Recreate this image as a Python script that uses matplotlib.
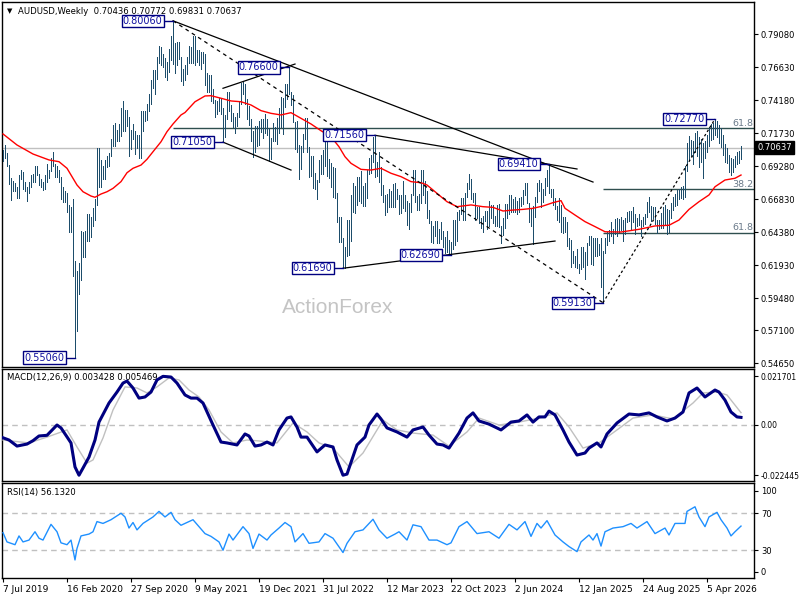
import matplotlib
matplotlib.use("Agg")
import matplotlib.pyplot as plt
from matplotlib.transforms import blended_transform_factory

# ---------------- data ----------------
highs = [
 0.7047,0.7082,0.7025,0.6935,0.6840,0.6820,0.6800,0.6770,0.6860,0.6895,
 0.6880,0.6810,0.6770,0.6810,0.6860,0.6870,0.6930,0.6930,0.6870,0.6830,
 0.6810,0.6860,0.6940,0.6900,0.6990,0.7032,0.6940,0.6930,0.6900,0.6850,
 0.6775,0.6740,0.6730,0.6640,0.6620,0.6685,0.6220,0.6150,0.6210,0.6445,
 0.6440,0.6445,0.6570,0.6570,0.6550,0.6615,0.6680,0.7065,0.7065,0.6975,
 0.6930,0.6975,0.7000,0.7025,0.7125,0.7230,0.7245,0.7195,0.7240,0.7360,
 0.7413,0.7345,0.7345,0.7290,0.7195,0.7240,0.7190,0.7160,0.7160,0.7340,
 0.7340,0.7340,0.7390,0.7460,0.7570,0.7640,0.7640,0.7740,0.7820,0.7815,
 0.7760,0.7730,0.7700,0.7800,0.7890,0.8006,0.7840,0.7850,0.7850,0.7740,
 0.7650,0.7680,0.7740,0.7820,0.7815,0.7890,0.7890,0.7790,0.7790,0.7775,
 0.7775,0.7760,0.7615,0.7600,0.7600,0.7500,0.7420,0.7410,0.7430,0.7425,
 0.7360,0.7310,0.7480,0.7480,0.7380,0.7320,0.7290,0.7320,0.7410,0.7545,
 0.7555,0.7535,0.7425,0.7370,0.7280,0.7190,0.7225,0.7225,0.7260,0.7280,
 0.7275,0.7315,0.7275,0.7210,0.7135,0.7250,0.7220,0.7285,0.7355,0.7440,
 0.7430,0.7540,0.7540,0.7660,0.7480,0.7455,0.7255,0.7265,0.7085,0.7075,
 0.7165,0.7285,0.7285,0.7070,0.7000,0.7000,0.6875,0.6825,0.6975,0.7010,
 0.7050,0.7135,0.7135,0.6980,0.6950,0.6920,0.6915,0.6730,0.6550,0.6550,
 0.6390,0.6330,0.6525,0.6530,0.6710,0.6800,0.6780,0.6850,0.6850,0.6890,
 0.6780,0.6800,0.6900,0.6990,0.7010,0.7140,0.7156,0.6960,0.7030,0.6920,
 0.6785,0.6715,0.6720,0.6760,0.6740,0.6795,0.6805,0.6760,0.6710,0.6715,
 0.6815,0.6710,0.6665,0.6650,0.6720,0.6900,0.6900,0.6705,0.6720,0.6895,
 0.6900,0.6820,0.6740,0.6600,0.6520,0.6480,0.6520,0.6520,0.6460,0.6510,
 0.6445,0.6400,0.6445,0.6380,0.6365,0.6525,0.6525,0.6590,0.6600,0.6690,
 0.6690,0.6730,0.6800,0.6870,0.6830,0.6730,0.6730,0.6620,0.6620,0.6545,
 0.6560,0.6595,0.6595,0.6665,0.6640,0.6635,0.6560,0.6640,0.6645,0.6480,
 0.6545,0.6645,0.6645,0.6715,0.6715,0.6680,0.6700,0.6670,0.6690,0.6700,
 0.6750,0.6800,0.6800,0.6650,0.6610,0.6630,0.6700,0.6800,0.6825,0.6800,
 0.6760,0.6840,0.6900,0.6941,0.6760,0.6760,0.6690,0.6630,0.6690,0.6640,
 0.6550,0.6550,0.6515,0.6390,0.6380,0.6300,0.6260,0.6310,0.6200,0.6330,
 0.6330,0.6290,0.6360,0.6410,0.6410,0.6390,0.6390,0.6390,0.6350,0.6390,
 0.6300,0.6390,0.6440,0.6450,0.6515,0.6460,0.6535,0.6540,0.6535,0.6550,
 0.6530,0.6545,0.6590,0.6595,0.6595,0.6625,0.6570,0.6540,0.6570,0.6530,
 0.6550,0.6570,0.6660,0.6700,0.6630,0.6620,0.6620,0.6530,0.6530,0.6580,
 0.6620,0.6640,0.6610,0.6600,0.6650,0.6700,0.6720,0.6750,0.6760,0.6770,
 0.6780,0.6930,0.7100,0.7150,0.7120,0.7110,0.7170,0.7190,0.7140,0.7130,
 0.7100,0.7110,0.7160,0.7220,0.7240,0.7250,0.7277,0.7260,0.7230,0.7210,
 0.7160,0.7090,0.7060,0.7010,0.6990,0.6980,0.7000,0.7030,0.7040,0.70772,
]
lows = [
 0.6966,0.6990,0.6925,0.6795,0.6677,0.6740,0.6740,0.6688,0.6690,0.6830,
 0.6760,0.6740,0.6670,0.6730,0.6770,0.6810,0.6810,0.6860,0.6790,0.6770,
 0.6750,0.6755,0.6810,0.6840,0.6890,0.6930,0.6850,0.6850,0.6810,0.6680,
 0.6660,0.6660,0.6585,0.6435,0.6435,0.6115,0.5506,0.5700,0.5980,0.6085,
 0.6250,0.6255,0.6370,0.6370,0.6400,0.6480,0.6525,0.6640,0.6775,0.6775,
 0.6830,0.6830,0.6920,0.6925,0.7000,0.7075,0.7075,0.7110,0.7115,0.7150,
 0.7190,0.7190,0.7225,0.7005,0.7055,0.7125,0.7020,0.7060,0.6990,0.6990,
 0.7190,0.7265,0.7270,0.7340,0.7390,0.7505,0.7465,0.7575,0.7690,0.7675,
 0.7665,0.7590,0.7565,0.7625,0.7715,0.7685,0.7620,0.7680,0.7720,0.7560,
 0.7530,0.7570,0.7610,0.7690,0.7690,0.7690,0.7675,0.7700,0.7675,0.7645,
 0.7690,0.7530,0.7475,0.7475,0.7410,0.7395,0.7290,0.7315,0.7340,0.7315,
 0.7105,0.7145,0.7275,0.7340,0.7265,0.7220,0.7170,0.7225,0.7290,0.7385,
 0.7460,0.7385,0.7275,0.7235,0.7110,0.6995,0.7035,0.7080,0.7085,0.7180,
 0.7135,0.7170,0.7160,0.6965,0.6980,0.7110,0.7110,0.7095,0.7175,0.7220,
 0.7165,0.7365,0.7425,0.7460,0.7380,0.7255,0.7055,0.7030,0.6830,0.6905,
 0.7030,0.7130,0.7035,0.6850,0.6855,0.6765,0.6760,0.6680,0.6810,0.6870,
 0.6870,0.6925,0.6855,0.6840,0.6770,0.6700,0.6690,0.6510,0.6365,0.6365,
 0.6169,0.6170,0.6260,0.6270,0.6370,0.6585,0.6580,0.6640,0.6670,0.6650,
 0.6630,0.6630,0.6690,0.6870,0.6875,0.6955,0.6850,0.6855,0.6810,0.6715,
 0.6660,0.6565,0.6590,0.6625,0.6625,0.6620,0.6620,0.6680,0.6575,0.6580,
 0.6615,0.6595,0.6490,0.6460,0.6590,0.6710,0.6660,0.6600,0.6600,0.6650,
 0.6715,0.6650,0.6545,0.6505,0.6365,0.6360,0.6410,0.6355,0.6360,0.6385,
 0.6330,0.6285,0.6290,0.6285,0.6269,0.6315,0.6340,0.6370,0.6525,0.6570,
 0.6525,0.6525,0.6700,0.6760,0.6680,0.6660,0.6525,0.6545,0.6505,0.6470,
 0.6440,0.6520,0.6460,0.6480,0.6540,0.6505,0.6480,0.6480,0.6475,0.6360,
 0.6415,0.6465,0.6540,0.6575,0.6590,0.6590,0.6590,0.6575,0.6585,0.6630,
 0.6645,0.6710,0.6650,0.6510,0.6480,0.6350,0.6550,0.6660,0.6740,0.6625,
 0.6660,0.6710,0.6780,0.6725,0.6700,0.6640,0.6610,0.6530,0.6515,0.6440,
 0.6430,0.6435,0.6335,0.6315,0.6180,0.6210,0.6180,0.6170,0.6130,0.6160,
 0.6180,0.6090,0.6190,0.6340,0.6200,0.6190,0.6260,0.6260,0.6265,0.6030,
 0.5913,0.6280,0.6340,0.6370,0.6410,0.6360,0.6420,0.6410,0.6440,0.6450,
 0.6370,0.6420,0.6510,0.6520,0.6455,0.6510,0.6420,0.6480,0.6490,0.6410,
 0.6480,0.6500,0.6550,0.6590,0.6520,0.6540,0.6500,0.6430,0.6460,0.6470,
 0.6470,0.6500,0.6420,0.6440,0.6540,0.6600,0.6630,0.6640,0.6680,0.6690,
 0.6680,0.6700,0.6890,0.6970,0.7000,0.6940,0.7030,0.7000,0.6920,0.6960,
 0.6840,0.6990,0.7030,0.7080,0.7120,0.7130,0.7160,0.7140,0.7100,0.7070,
 0.7010,0.6960,0.6950,0.6880,0.6860,0.6880,0.6920,0.6940,0.6950,0.69831,
]
assert len(highs) == 370 and len(lows) == 370

last_price = 0.70637
title_text = "AUDUSD,Weekly  0.70436 0.70772 0.69831 0.70637"

# red moving average (week index, value)
ma_idx = [0,7,15,23,28,32,37,40,44,46,49,52,55,59,62,65,69,72,75,79,82,85,89,
          91,96,101,104,109,114,119,124,129,134,139,144,149,154,159,164,168,171,
          174,179,184,189,194,199,204,209,212,217,222,227,234,240,245,250,255,
          260,265,270,275,279,281,286,291,296,301,309,318,326,333,338,343,348,
          353,356,361,366,369]
ma_val = [0.7166,0.7084,0.7017,0.6973,0.6960,0.6911,0.6787,0.6737,0.6705,0.6696,
          0.6720,0.6737,0.6762,0.6812,0.6878,0.6911,0.6935,0.6978,0.7034,0.7108,
          0.7183,0.7240,0.7307,0.7325,0.7405,0.7448,0.7450,0.7431,0.7411,0.7405,
          0.7381,0.7339,0.7319,0.7307,0.7324,0.7282,0.7240,0.7190,0.7146,0.7071,
          0.6997,0.6948,0.6903,0.6898,0.6911,0.6874,0.6849,0.6812,0.6804,0.6787,
          0.6725,0.6663,0.6626,0.6639,0.6626,0.6621,0.6594,0.6601,0.6606,0.6614,
          0.6631,0.6656,0.6671,0.6614,0.6564,0.6515,0.6478,0.6440,0.6438,0.6458,
          0.6483,0.6488,0.6527,0.6606,0.6663,0.6713,0.6774,0.6824,0.6837,0.6861]

macd_idx = [0,3,7,12,15,18,22,27,29,32,34,36,38,40,43,46,48,53,57,60,62,65,68,71,
            74,77,80,84,87,91,94,97,100,105,109,112,117,121,123,126,129,132,135,
            138,142,144,147,149,152,157,161,165,167,170,172,177,181,183,187,189,
            192,197,202,205,210,213,217,220,223,228,232,235,238,243,249,254,258,
            262,265,268,271,273,276,280,283,287,291,293,297,299,302,307,313,318,
            323,327,332,336,340,343,347,351,356,358,361,364,367,369]
macd_val = [-0.0057,-0.0067,-0.0094,-0.0085,-0.0070,-0.0049,-0.0046,0.0000,-0.0013,
            -0.0053,-0.0080,-0.0187,-0.0224,-0.0192,-0.0143,-0.0067,0.0013,0.0098,
            0.0147,0.0187,0.0196,0.0165,0.0120,0.0125,0.0147,0.0201,0.0217,0.0214,
            0.0187,0.0134,0.0120,0.0120,0.0098,0.0000,-0.0076,-0.0080,-0.0089,
            -0.0040,-0.0049,-0.0094,-0.0089,-0.0076,-0.0089,-0.0022,0.0031,0.0036,
            -0.0009,-0.0054,-0.0054,-0.0120,-0.0089,-0.0098,-0.0156,-0.0224,-0.0219,
            -0.0089,-0.0054,0.0000,0.0049,0.0027,-0.0013,-0.0031,-0.0054,-0.0022,
            -0.0009,-0.0045,-0.0085,-0.0089,-0.0103,-0.0036,0.0031,0.0054,0.0018,
            0.0004,-0.0022,0.0013,0.0018,0.0045,0.0013,0.0036,0.0036,0.0062,0.0045,
            -0.0022,-0.0076,-0.0134,-0.0125,-0.0103,-0.0080,-0.0098,-0.0040,0.0009,
            0.0049,0.0045,0.0054,0.0036,0.0018,0.0031,0.0058,0.0143,0.0165,0.0125,
            0.0156,0.0147,0.0111,0.0058,0.0036,0.0034]
signal_idx = [0,13,22,32,37,42,45,50,55,61,67,72,77,83,88,93,98,103,109,115,122,
              128,137,145,152,158,165,173,180,190,197,205,215,223,232,238,248,258,
              268,277,283,290,298,307,315,325,335,345,350,357,362,369]
signal_val = [-0.0067,-0.0080,-0.0054,-0.0022,-0.0098,-0.0170,-0.0156,-0.0058,
              0.0067,0.0170,0.0165,0.0143,0.0170,0.0210,0.0201,0.0156,0.0125,0.0067,
              -0.0031,-0.0080,-0.0067,-0.0071,-0.0080,0.0009,-0.0031,-0.0080,-0.0103,
              -0.0187,-0.0125,0.0022,-0.0022,-0.0036,-0.0045,-0.0094,-0.0031,0.0031,
              0.0000,0.0013,0.0031,0.0054,-0.0009,-0.0103,-0.0080,-0.0022,0.0031,
              0.0045,0.0027,0.0098,0.0143,0.0147,0.0134,0.0055]

rsi_idx = [0,2,4,6,8,10,13,16,18,20,24,27,29,32,34,36,37,39,43,45,47,50,54,59,61,
           63,65,67,70,75,78,81,84,86,89,93,95,98,101,104,108,110,113,115,120,123,
           125,128,132,134,138,141,144,146,150,153,158,161,165,170,172,176,180,185,
           188,192,196,198,202,205,209,213,217,222,224,228,232,237,243,248,253,257,
           261,264,267,269,272,276,280,283,287,289,293,295,297,299,301,305,310,314,
           317,322,326,331,333,336,341,342,346,348,351,353,357,359,362,364,366,369]
rsi_val = [49,39,37.5,36,45.5,39,41,50,43,41,58,50,38,36,41,19.5,32,45.5,47.5,50,
           61,59,63,70,66,54,60,52,59,66,72,66,71,63,57,61,63,55.5,48,45,39,30,47.5,
           41,55.5,48,32,47.5,41,46.5,54,60,55.5,39,48,37.5,39,48,43,27.5,37.5,50,
           52,63.5,52,43,47.5,50,41,57.5,55.5,41,41,36,38,55.5,61,48,50,43,58,52,61,
           45,59,54,62,46.5,39,34,28.5,39,46.5,41,48,34.5,50,54,55.5,59,54,61,48,54,
           46.5,59,59,72,77,66,55.5,66,71,63,54,45.5,50,56.13]

price_ticks = [0.79080,0.76630,0.74180,0.71730,0.69280,0.66830,0.64380,0.61930,
               0.59480,0.57100,0.54650]
date_idx = [0,32,64,96,128,160,192,224,256,288,320,352]
date_labels = ["7 Jul 2019","16 Feb 2020","27 Sep 2020","9 May 2021","19 Dec 2021",
               "31 Jul 2022","12 Mar 2023","22 Oct 2023","2 Jun 2024","12 Jan 2025",
               "24 Aug 2025","5 Apr 2026"]

# swing points labelled on the chart (week index, price)
swings = [(85,0.8006),(143,0.7660),(110,0.7105),(186,0.7156),(273,0.6941),
          (356,0.7277),(170,0.6169),(224,0.6269),(300,0.5913),(36,0.5506)]
# trend lines (start idx, start price, end idx, end price, style)
trend_lines = [
    (85,0.8006,295,0.6809,'-'),
    (85,0.8006,300,0.5913,(0,(3,3))),
    (300,0.5913,356,0.7277,(0,(2,2))),
    (186,0.7156,287,0.6906,'-'),
    (170,0.6169,276,0.6371,'-'),
    (110,0.7505,146,0.7685,'-'),
    (110,0.7105,144,0.6898,'-'),
]

# ---------------- figure ----------------
W, H = 800, 600
fig = plt.figure(figsize=(8, 6), dpi=100)
fig.patch.set_facecolor('white')

def rect(x0, y0, x1, y1):
    return [x0 / W, 1 - y1 / H, (x1 - x0) / W, (y1 - y0) / H]

ax = fig.add_axes(rect(2, 2, 754, 367))
ax2 = fig.add_axes(rect(2, 369, 754, 481))
ax3 = fig.add_axes(rect(2, 483, 754, 578))

FS = 6.0
bar_col = '#1d4d6b'
n = len(highs)
xs = list(range(n))
for a in (ax, ax2, ax3):
    a.set_xlim(-0.5, 375.5)
    for s in a.spines.values():
        s.set_color('black')
        s.set_linewidth(1.0)
    a.yaxis.tick_right()
    a.tick_params(axis='y', direction='out', length=3, width=0.8, pad=2,
                  labelsize=FS, colors='black')
    a.tick_params(axis='x', bottom=False, labelbottom=False)

# main panel
ax.set_ylim(0.54358, 0.81456)
ax.vlines(xs, lows, highs, color=bar_col, lw=0.55, antialiased=False, zorder=3)
ax.plot(ma_idx, ma_val, color='#ff0000', lw=1.0, zorder=4)
ax.axhline(last_price, color='#c0c0c0', lw=1.0, zorder=1)

hi, lo, top = 0.7277, 0.5913, 0.8006
fib_col = '#2f4f4f'
fibs = [(lo + 0.618 * (top - lo), 85, '61.8'),
        (hi - 0.382 * (hi - lo), 300, '38.2'),
        (hi - 0.618 * (hi - lo), 300, '61.8')]
for lvl, start, txt in fibs:
    ax.hlines(lvl, start, 375.5, color=fib_col, lw=1.0, zorder=2)
    ax.text(375.0, lvl + 0.0004, txt, ha='right', va='bottom', fontsize=FS + 0.8,
            color='#6a7a8a', zorder=5)

for (i0, p0, i1, p1, ls) in trend_lines:
    ax.plot([i0, i1], [p0, p1], color='black', lw=0.9, linestyle=ls, zorder=5)

for (i, p) in swings:
    ax.plot([i - 4.5, i], [p, p], color='#000080', lw=1.0, zorder=6)
    ax.text(i - 5.2, p, f"{p:.5f}", ha='right', va='center', fontsize=7.0,
            color='#1010a0', zorder=7,
            bbox=dict(boxstyle='square,pad=0.12', fc='white', ec='#000080', lw=1.0))

ax.set_yticks(price_ticks)
ax.set_yticklabels([f"{v:.5f}" for v in price_ticks])
ax.text(1.004, last_price, f"{last_price:.5f}",
        transform=blended_transform_factory(ax.transAxes, ax.transData),
        ha='left', va='center', fontsize=FS, color='white', clip_on=False, zorder=10,
        bbox=dict(boxstyle='square,pad=0.25', fc='black', ec='black'))

ax.text(0.0213, 0.975, title_text, transform=ax.transAxes, ha='left', va='center',
        fontsize=6.1, color='black')
ax.text(0.0106, 0.975, '\u25bc', transform=ax.transAxes, ha='center', va='center',
        fontsize=5, color='black')
ax.text(0.447, 0.164, 'ActionForex', transform=ax.transAxes, ha='center',
        va='center', fontsize=15, color='#c4c4c4', family='Liberation Sans', zorder=0)

# MACD panel
ax2.set_ylim(-0.02498, 0.02498)
ax2.axhline(0, color='#c0c0c0', lw=1.0, linestyle=(0, (4, 3)))
ax2.plot(signal_idx, signal_val, color='#c0c0c0', lw=1.0, zorder=3)
ax2.plot(macd_idx, macd_val, color='#000080', lw=2.2, zorder=4)
ax2.set_yticks([0.021701, 0.0, -0.022445])
ax2.set_yticklabels(["0.021701", "0.00", "-0.022445"])
ax2.tick_params(axis='y', labelsize=5.5, pad=1.5)
ax2.text(0.0066, 0.92, "MACD(12,26,9) 0.003428 0.005469", transform=ax2.transAxes,
         ha='left', va='center', fontsize=6.1, color='black')

# RSI panel
ax3.set_ylim(0, 102.7)
for lv in (70, 30):
    ax3.axhline(lv, color='#c0c0c0', lw=1.0, linestyle=(0, (4, 3)))
ax3.plot(rsi_idx, rsi_val, color='#1e90ff', lw=1.0, zorder=3)
ax3.set_yticks([94.5, 70, 30, 6.5])
ax3.set_yticklabels(["100", "70", "30", "0"])
ax3.text(0.0066, 0.905, "RSI(14) 56.1320", transform=ax3.transAxes,
         ha='left', va='center', fontsize=6.1, color='black')
ax3.set_xticks(date_idx)
ax3.set_xticklabels(date_labels)
ax3.tick_params(axis='x', bottom=True, labelbottom=True, direction='out', length=3,
                width=0.8, pad=2, labelsize=FS + 0.5)
for t in ax3.get_xticklabels():
    t.set_horizontalalignment('left')

fig.savefig('out.png', dpi=100, facecolor='white')
